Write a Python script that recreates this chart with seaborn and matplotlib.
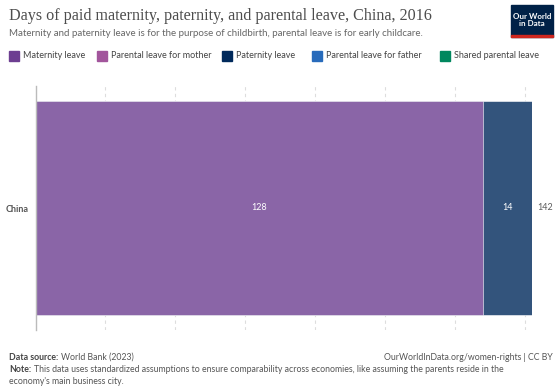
import matplotlib
matplotlib.use("Agg")
import matplotlib.pyplot as plt
from matplotlib.patches import Rectangle
import seaborn as sns
import numpy as np
import pandas as pd

# ---- data ----
countries = ["China"]
series = ["Maternity leave", "Parental leave for mother", "Paternity leave",
          "Parental leave for father", "Shared parental leave"]
maternity = [128]
parental_mother = [0]
paternity = [14]
parental_father = [0]
shared = [0]
colors = ["#6D3E91", "#A2559C", "#00295B", "#286BBB", "#00875E"]
grid_ticks = [20, 40, 60, 80, 100, 120, 140]

values = [maternity, parental_mother, paternity, parental_father, shared]

def lighten(hexc, a=0.8):
    r, g, b = matplotlib.colors.to_rgb(hexc)
    return (a * r + (1 - a), a * g + (1 - a), a * b + (1 - a))

sns.set_theme(style="white")
plt.rcParams['font.family'] = ['Lato', 'DejaVu Sans']

W, H = 556, 389
fig = plt.figure(figsize=(W / 100, H / 100), dpi=100)
renderer = fig.canvas.get_renderer()

ax_left, ax_right, ax_top, ax_bot = 35.5, 531.7, 86, 330
ax = fig.add_axes([ax_left / W, 1 - ax_bot / H, (ax_right - ax_left) / W, (ax_bot - ax_top) / H])

df = pd.DataFrame({s: v for s, v in zip(series, values)}, index=countries)
cum = df.cumsum(axis=1)
totals = df.sum(axis=1)

# draw from last segment to first so earlier segments sit on top
for i in range(len(series) - 1, -1, -1):
    s = series[i]
    if df[s].sum() <= 0:
        continue
    sns.barplot(x=cum[s].values, y=countries, orient="h", color=lighten(colors[i]),
                width=0.877, ax=ax, saturation=1, edgecolor="white", linewidth=0.4)

# segment labels
for ci, c in enumerate(countries):
    start = 0
    for i, s in enumerate(series):
        v = df.loc[c, s]
        if v > 0:
            ax.text(start + v / 2, ci, f"{v:g}", ha="center", va="center",
                    color="white", fontsize=6.5)
        start += v
    ax.text(totals[c] + 1.5, ci, f"{totals[c]:g}", ha="left", va="center",
            color="#5b5b5b", fontsize=6.5)

ax.set_xlim(0, float(totals.max()))
ax.set_ylim(0.5, -0.5)
ax.set_xticks(grid_ticks)
ax.set_xticklabels([])
ax.tick_params(axis="x", length=0)
ax.xaxis.grid(True, linestyle=(0, (3, 3)), color="#dddddd", linewidth=0.8)
ax.set_axisbelow(True)
for sp in ["top", "right", "bottom"]:
    ax.spines[sp].set_visible(False)
ax.spines["left"].set_color("#bbbbbb")
ax.spines["left"].set_linewidth(1)
ax.set_xlabel("")
ax.set_ylabel("")
ax.tick_params(axis="y", length=0, pad=5)
for lab in ax.get_yticklabels():
    lab.set_fontsize(6.5)
    lab.set_color("#555555")
    lab.set_fontweight("bold")

# ---- title / subtitle ----
fig.text(9 / W, 1 - 16 / H, "Days of paid maternity, paternity, and parental leave, China, 2016",
         fontsize=11.6, family=["Liberation Serif", "DejaVu Serif"], color="#4d4d4d",
         ha="left", va="center")
fig.text(9 / W, 1 - 33 / H,
         "Maternity and paternity leave is for the purpose of childbirth, parental leave is for early childcare.",
         fontsize=7.0, color="#666666", ha="left", va="center")

# ---- legend ----
leg_x = [9, 97, 222, 312, 440]
for x0, s, c in zip(leg_x, series, colors):
    fig.patches.append(Rectangle((x0 / W, 1 - 61 / H), 10 / W, 10 / H,
                                 transform=fig.transFigure, color=c))
    fig.text((x0 + 14) / W, 1 - 56 / H, s, fontsize=6.5, color="#444444",
             ha="left", va="center")

# ---- logo ----
fig.patches.append(Rectangle((511 / W, 1 - 37 / H), 42 / W, 32 / H,
                             transform=fig.transFigure, color="#002147"))
fig.patches.append(Rectangle((511 / W, 1 - 37 / H), 42 / W, 2 / H,
                             transform=fig.transFigure, color="#ce261e"))
fig.text(532 / W, 1 - 20 / H, "Our World\nin Data", fontsize=5.8, color="white",
         ha="center", va="center", fontweight="bold", linespacing=1.0)

# ---- footer ----
def bold_prefix(x_px, y_px, prefix, rest, fs=6.3):
    t = fig.text(x_px / W, 1 - y_px / H, prefix, fontsize=fs, color="#444444",
                 fontweight="bold", ha="left", va="center")
    bb = t.get_window_extent(renderer=renderer)
    fig.text((bb.x1 + 3) / W, 1 - y_px / H, rest, fontsize=fs, color="#555555",
             ha="left", va="center")

bold_prefix(9, 357, "Data source:", "World Bank (2023)")
fig.text(553 / W, 1 - 357 / H, "OurWorldInData.org/women-rights | CC BY", fontsize=6.3,
         color="#555555", ha="right", va="center")
bold_prefix(9, 370, "Note:",
            "This data uses standardized assumptions to ensure comparability across economies, like assuming the parents reside in the")
fig.text(9 / W, 1 - 381 / H, "economy's main business city.", fontsize=6.3,
         color="#555555", ha="left", va="center")

fig.savefig("out.png", dpi=100)
